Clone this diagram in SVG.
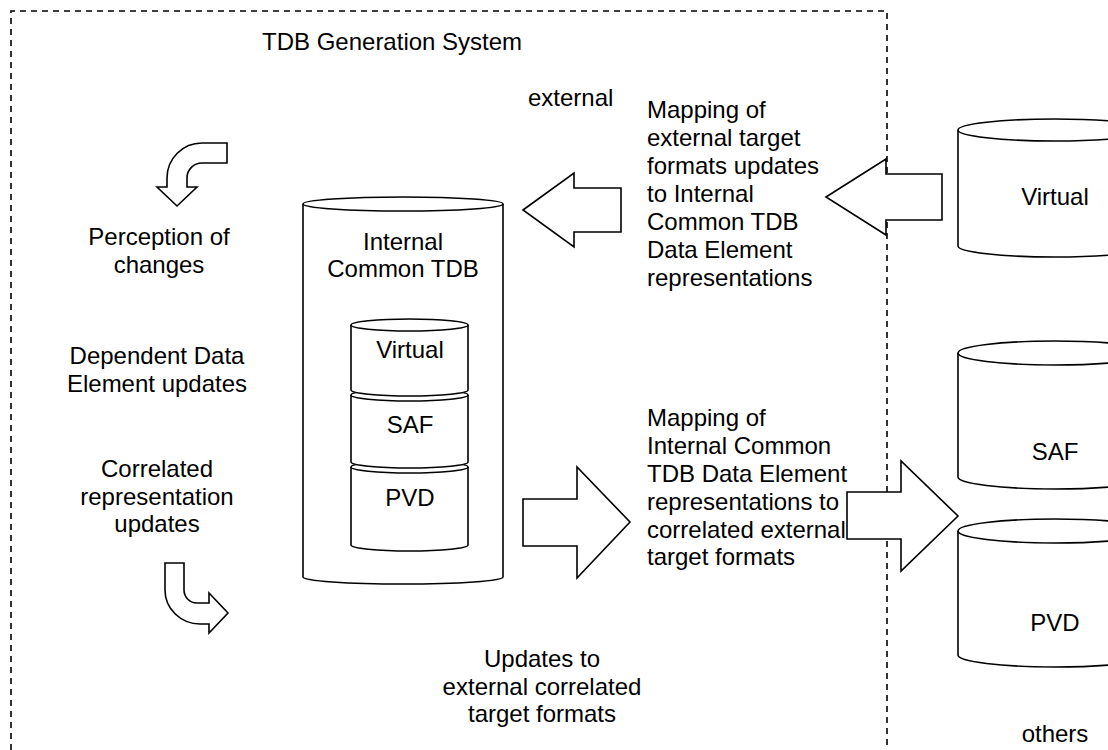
<svg xmlns="http://www.w3.org/2000/svg" width="1108" height="750" viewBox="0 0 1108 750">
<style>
text{font-family:"Liberation Sans",Arial,sans-serif;font-size:24px;fill:#000}
.c{text-anchor:middle}
.s{fill:#fff;stroke:#000;stroke-width:1.6}
.d{fill:none;stroke:#000;stroke-width:1.6;stroke-dasharray:6 5}
</style>
<rect width="1108" height="750" fill="#fff"/>
<path class="d" d="M11,750 V11 H887 V750"/>
<text x="262" y="50">TDB Generation System</text>
<text x="528" y="106">external</text>

<g id="text-left">
<text class="c" x="159" y="245">Perception of</text>
<text class="c" x="159" y="273">changes</text>
<text class="c" x="157" y="364">Dependent Data</text>
<text class="c" x="157" y="392">Element updates</text>
<text class="c" x="157" y="477">Correlated</text>
<text class="c" x="157" y="505">representation</text>
<text class="c" x="157" y="532">updates</text>
</g>

<g id="db-internal">
<path class="s" d="M303,204 V577 A100,7 0 0 0 503,577 V204"/>
<ellipse class="s" cx="403" cy="204" rx="100" ry="7"/>
<text class="c" x="403" y="250">Internal</text>
<text class="c" x="403" y="277">Common TDB</text>
</g>
<g id="db-int-pvd">
<path class="s" d="M351,467 V545 A58.5,6 0 0 0 468,545 V467"/>
<ellipse class="s" cx="409.5" cy="467" rx="58.5" ry="6"/>
<text class="c" x="410" y="506">PVD</text>
</g>
<g id="db-int-saf">
<path class="s" d="M351,395 V462 A58.5,6 0 0 0 468,462 V395"/>
<ellipse class="s" cx="409.5" cy="395" rx="58.5" ry="6"/>
<text class="c" x="410" y="433">SAF</text>
</g>
<g id="db-int-virtual">
<path class="s" d="M351,325 V390 A58.5,6 0 0 0 468,390 V325"/>
<ellipse class="s" cx="409.5" cy="325" rx="58.5" ry="6"/>
<text class="c" x="410" y="358">Virtual</text>
</g>

<g id="text-map-in">
<text x="647" y="118">Mapping of</text>
<text x="647" y="146">external target</text>
<text x="647" y="174">formats updates</text>
<text x="647" y="202">to Internal</text>
<text x="647" y="230">Common TDB</text>
<text x="647" y="258">Data Element</text>
<text x="647" y="286">representations</text>
</g>
<g id="text-map-out">
<text x="647" y="426">Mapping of</text>
<text x="647" y="454">Internal Common</text>
<text x="647" y="482">TDB Data Element</text>
<text x="647" y="510">representations to</text>
<text x="647" y="538">correlated external</text>
<text x="647" y="565">target formats</text>
</g>
<g id="text-updates">
<text class="c" x="542" y="667">Updates to</text>
<text class="c" x="542" y="695">external correlated</text>
<text class="c" x="542" y="722">target formats</text>
</g>

<g id="db-ext-virtual">
<path class="s" d="M958,130 V246 A97,11 0 0 0 1152,246 V130"/>
<ellipse class="s" cx="1055" cy="130" rx="97" ry="11"/>
<text class="c" x="1055" y="205">Virtual</text>
</g>
<g id="db-ext-saf">
<path class="s" d="M958,353 V477 A97,12 0 0 0 1152,477 V353"/>
<ellipse class="s" cx="1055" cy="353" rx="97" ry="12"/>
<text class="c" x="1055" y="460">SAF</text>
</g>
<g id="db-ext-pvd">
<path class="s" d="M958,531 V655 A97,12 0 0 0 1152,655 V531"/>
<ellipse class="s" cx="1055" cy="531" rx="97" ry="12"/>
<text class="c" x="1055" y="631">PVD</text>
</g>
<text class="c" x="1055" y="742">others</text>

<g id="connectors">
<path class="s" d="M227,143 H202 A35,35 0 0 0 167,178 V187 H157 L177,206 L197,187 H187 V178 A15,15 0 0 1 202,163 H227 Z"/>
<path class="s" d="M165,563 H184 V590 A13,13 0 0 0 197,603 H209 V593 L228,613 L209,633 V624 H200 A35,34 0 0 1 165,590 Z"/>
<polygon class="s" points="523,210 574,173 574,188 621,188 621,232 574,232 574,247"/>
<polygon class="s" points="826,197 886,159 886,174 942,174 942,220 886,220 886,235"/>
<polygon class="s" points="523,499 577,499 577,467 630,522 577,578 577,546 523,546"/>
<polygon class="s" points="847,492 901,492 901,461 958,516 901,571 901,539 847,539"/>
</g>
</svg>
